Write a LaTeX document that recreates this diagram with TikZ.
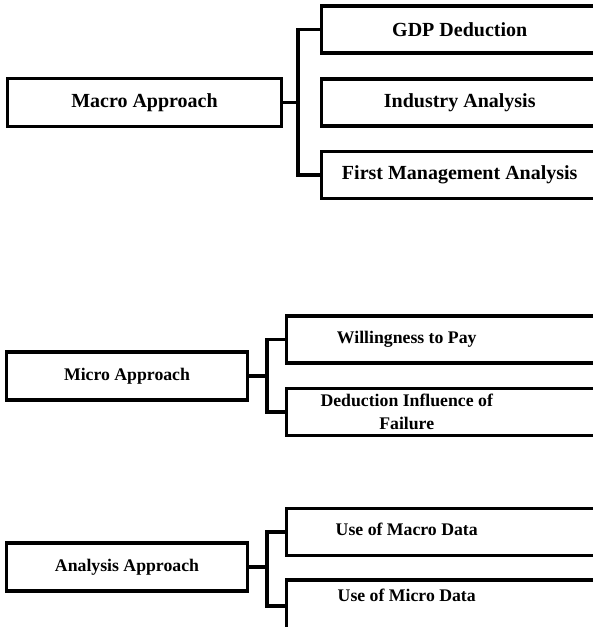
\documentclass[tikz,border=0pt]{standalone}
\usepackage{fontspec}
\setmainfont{Liberation Serif}
\usepackage{tikz}
\usetikzlibrary{positioning}

\begin{document}
\begin{tikzpicture}[
    x=0.75pt, y=-0.75pt,
    line width=2.6pt,
    every node/.style={font=\bfseries\fontsize{15}{18}\selectfont},
    small/.style={font=\bfseries\fontsize{13.3}{17}\selectfont},
    mainbox/.style={draw, minimum height=36pt, inner sep=0pt},
    subbox/.style={draw, anchor=west, minimum height=35.5pt, inner xsep=0pt, inner ysep=0pt, align=center}
]
\useasboundingbox (0,0) rectangle (592,627);

% macro group
\node[mainbox, minimum width=205.5pt] (macro) at (144.5,102.5) {Macro Approach};
\node[subbox, minimum width=207pt] (gdp) at (320,29.5) {GDP Deduction};
\node[subbox, minimum width=207pt] (industry) at (320,102.5) {Industry Analysis};
\node[subbox, minimum width=207pt] (firstman) at (320,175) {First Management Analysis};
\coordinate (macroj) at (298,102.5);
\draw (macro) -- (macroj);
\draw (gdp.west) -| (macroj) |- (firstman.west);

% micro group
\node[mainbox, small, minimum width=181pt] (micro) at (127,376) {Micro Approach};
\node[subbox, small] (willing) at (285,339.5) {\makebox[180pt]{Willingness to Pay}\hspace{60pt}};
\node[subbox, small] (failure) at (285,412) {\parbox{180pt}{\centering Deduction Influence of\\Failure}\hspace{60pt}};
\coordinate (microj) at (267,376);
\draw (micro) -- (microj);
\draw (willing.west) -| (microj) |- (failure.west);

% analysis group
\node[mainbox, small, minimum width=181pt] (analysis) at (127,567) {Analysis Approach};
\node[subbox, small, text height=9.5pt, text depth=5pt] (macrodata) at (285,532) {\makebox[180pt]{Use of Macro Data}\hspace{60pt}};
\node[subbox, small, minimum height=39pt, text height=9.5pt, text depth=17pt] (microdata) at (285,606) {\makebox[180pt]{Use of Micro Data}\hspace{60pt}};
\coordinate (analysisj) at (267,567);
\draw (analysis) -- (analysisj);
\draw (macrodata.west) -| (analysisj) |- (microdata.west);
\end{tikzpicture}
\end{document}
